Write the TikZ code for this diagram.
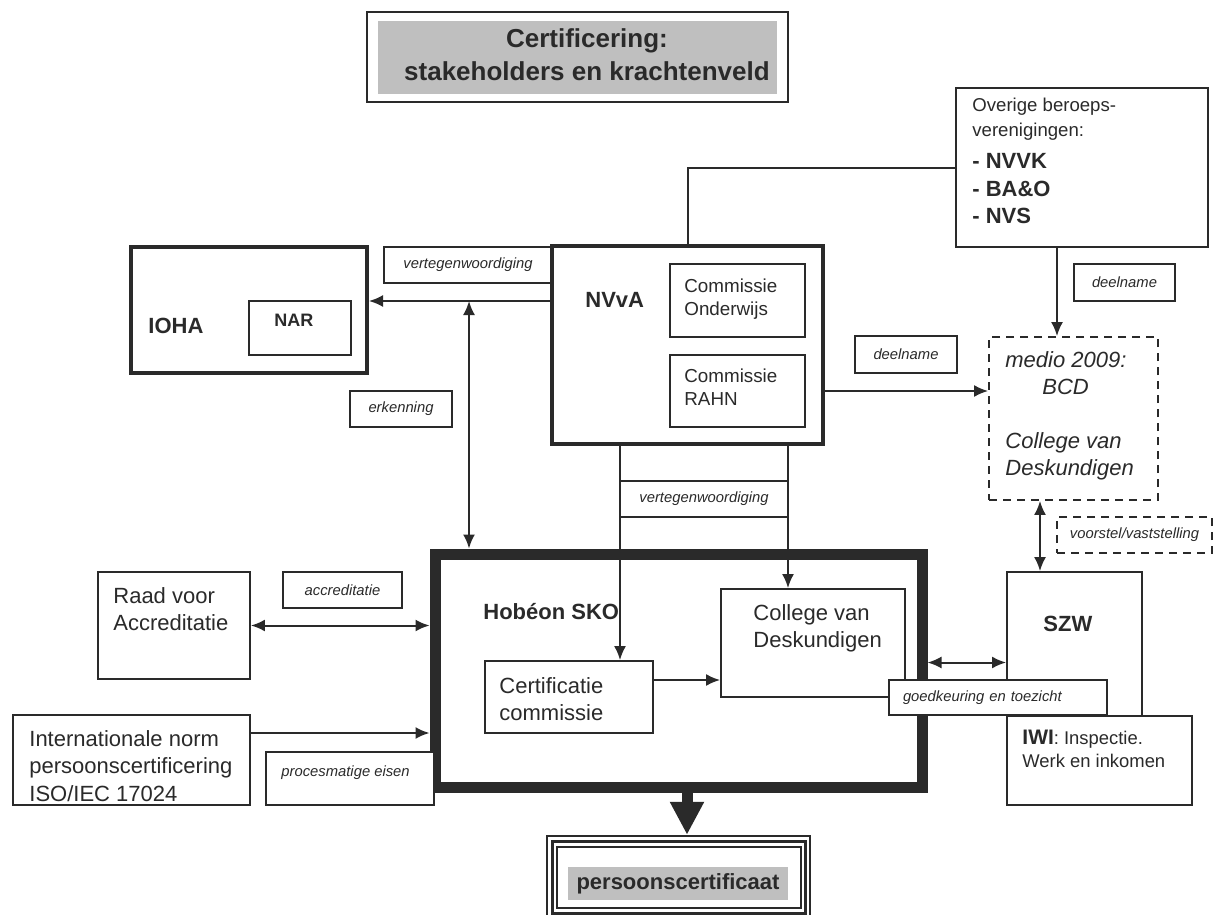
\documentclass[tikz,border=0pt]{standalone}
\usepackage{fontspec}
\setmainfont{Liberation Sans}
\usetikzlibrary{arrows.meta}
\definecolor{ink}{HTML}{2A2A2A}
\definecolor{shade}{HTML}{BFBFBF}

\tikzset{
  box/.style={draw=ink, line width=0.9pt, fill=white, inner sep=0pt},
  heavybox/.style={box, line width=2pt},
  lbl/.style={box, text=ink, font=\fontsize{7.4}{9}\selectfont\itshape, minimum height=18pt},
  txt/.style={inner sep=0pt, anchor=north west, align=left, text=ink, font=\fontsize{11}{13.5}\selectfont},
  btxt/.style={txt, font=\fontsize{11}{13.5}\selectfont\bfseries},
  conn/.style={draw=ink, line width=1pt},
}

\begin{document}
\begin{tikzpicture}[x=0.5pt, y=-0.5pt, >={Latex[length=7pt,width=6pt]}]
\useasboundingbox (0,0) rectangle (1215,915);

% title
\node[box, minimum width=210.5pt, minimum height=45pt] (titleframe) at (577.5,57) {};
\node[fill=shade, inner sep=0pt, minimum width=199.5pt, minimum height=36.5pt] (titlefill) at (577.5,57.5) {};
\node[txt, anchor=north, align=center, font=\fontsize{13}{16.5}\selectfont\bfseries] (title) at (587,28) {Certificering:\\ stakeholders en krachtenveld};

% other associations
\node[box, minimum width=126pt, minimum height=79.5pt] (overige) at (1082,167.5) {};
\node[txt, font=\fontsize{9.3}{12.5}\selectfont] (overigetxt) at (972,98) {Overige beroeps-\\verenigingen:};
\node[btxt, font=\fontsize{11}{13.75}\selectfont\bfseries] (overigelist) at (972,153) {- NVVK\\- BA\&O\\- NVS};

% NVvA
\node[lbl, minimum width=84pt] (vert1) at (468,265) {vertegenwoordiging};
\node[heavybox, minimum width=135.5pt, minimum height=99pt] (nvva) at (687.5,345) {};
\node[btxt] (nvvatxt) at (585,292) {NVvA};
\node[box, minimum width=67.5pt, minimum height=36.5pt] (comond) at (737.5,300.5) {};
\node[txt, font=\fontsize{9.4}{11.5}\selectfont] (comondtxt) at (684,278) {Commissie\\Onderwijs};
\node[box, minimum width=67.5pt, minimum height=36pt] (comrahn) at (737.5,391) {};
\node[txt, font=\fontsize{9.4}{11.5}\selectfont] (comrahntxt) at (684,368) {Commissie\\RAHN};

% IOHA
\node[heavybox, minimum width=118pt, minimum height=63pt] (ioha) at (249,310) {};
\node[btxt] (iohatxt) at (148,318) {IOHA};
\node[box, minimum width=51pt, minimum height=27pt] (nar) at (300,328) {};
\node[btxt, font=\fontsize{9}{11}\selectfont\bfseries] (nartxt) at (274,314) {NAR};

% BCD
\node[box, dash pattern=on 4pt off 3pt, minimum width=84.5pt, minimum height=81.5pt] (medio) at (1073.5,418.5) {};
\node[txt, font=\fontsize{11}{13.5}\selectfont\itshape] (mediotxt) at (1005,351) {medio 2009:\\\hspace*{18.5pt}BCD\\[13.5pt]College van\\Deskundigen};

% SZW
\node[box, minimum width=67.5pt, minimum height=72pt] (szw) at (1074.5,644) {};
\node[btxt] (szwtxt) at (1043,616) {SZW};
\node[box, minimum width=92.5pt, minimum height=44.5pt] (iwi) at (1099.5,760.5) {};
\node[txt, font=\fontsize{9.2}{11.5}\selectfont] (iwitxt) at (1022,730) {{\fontsize{10.5}{11.5}\selectfont\bfseries IWI}: Inspectie.\\Werk en inkomen};

% Hobeon
\node[box, line width=5.5pt, minimum width=243.5pt, minimum height=116.5pt] (hobeon) at (678.5,670.5) {};
\node[btxt] (hobeontxt) at (483,603) {Hobéon SKO};
\node[box, minimum width=84pt, minimum height=36pt] (cert) at (569,697) {};
\node[txt] (certtxt) at (499,677) {Certificatie\\commissie};
\node[box, minimum width=92pt, minimum height=54pt] (college) at (813,643) {};
\node[txt] (collegetxt) at (753,604) {College van\\Deskundigen};

% left side
\node[box, minimum width=76pt, minimum height=53.5pt] (raad) at (174,625.5) {};
\node[txt] (raadtxt) at (113,587) {Raad voor\\Accreditatie};
\node[box, minimum width=118.5pt, minimum height=45pt] (intl) at (131.5,760) {};
\node[txt, font=\fontsize{11}{13.75}\selectfont] (intltxt) at (29,730) {Internationale norm\\persoonscertificering\\ISO/IEC 17024};

% certificate
\node[box, minimum width=131.65pt, minimum height=41.15pt] (pcert) at (678.35,876.85) {};
\node[box, line width=1.5pt, minimum width=126.5pt, minimum height=35.75pt] (pcertmid) at (678.5,877.25) {};
\node[box, minimum width=122pt, minimum height=30.5pt] (pcertin) at (678.7,877.5) {};
\node[fill=shade, inner sep=0pt, minimum width=110pt, minimum height=16.5pt, text=ink, font=\fontsize{11}{13}\selectfont\bfseries] (pcerttxt) at (678,883.5) {persoonscertificaat};

% labels
\node[lbl, minimum width=51pt] (erkenning) at (401,409) {erkenning};
\node[lbl, minimum width=50.5pt, minimum height=18.5pt] (deeltop) at (1124.5,282.5) {deelname};
\node[lbl, minimum width=51pt, minimum height=18.5pt] (deelmid) at (906,354.5) {deelname};
\node[lbl, minimum width=84pt] (vert2) at (704,499) {vertegenwoordiging};
\node[lbl, dash pattern=on 4pt off 3pt, minimum width=77.5pt] (voorstel) at (1134.5,535) {voorstel/vaststelling};
\node[lbl, minimum width=59.5pt] (accr) at (342.5,590) {accreditatie};

% connectors
\coordinate (split) at (469,301);
\draw[conn, ->] (nvva.west |- split) -- (ioha.east |- split);
\draw[conn, <->] (split) -- (split |- hobeon.north);
\draw[conn] (overige.west) -| (nvva.north);
\draw[conn, ->] ([xshift=-12.5pt]overige.south) -- ([xshift=-12.5pt]overige.south |- medio.north);
\draw[conn, ->] ([yshift=-23pt]nvva.east) -- ([yshift=-23pt]nvva.east -| medio.west);
\draw[conn, ->] ([xshift=-33.75pt]nvva.south) -- ([xshift=-33.75pt]nvva.south |- cert.north);
\draw[conn, ->] ([xshift=50.25pt]nvva.south) -- ([xshift=50.25pt]nvva.south |- college.north);
\draw[conn, ->] ([yshift=8.5pt]cert.east) -- ([yshift=8.5pt]cert.east -| college.west);
\draw[conn, <->] (raad.east) -- (raad.east -| hobeon.west);
\draw[conn, ->] ([yshift=13.5pt]intl.east) -- ([yshift=13.5pt]intl.east -| hobeon.west);
\draw[conn, <->] ([xshift=-16.75pt]medio.south) -- ([xshift=-16.75pt]medio.south |- szw.north);
\draw[conn, <->] ([yshift=4pt]hobeon.east) -- ([yshift=4pt]hobeon.east -| szw.west);
\draw[draw=ink, line width=5.5pt, -{Triangle[length=16.5pt,width=16pt]}] ([xshift=4.25pt]hobeon.south) -- ([xshift=4.25pt]hobeon.south |- pcert.north);

% labels on top
\node[lbl, minimum width=84pt, minimum height=26.5pt] (procbox) at (350,778.5) {};
\node[txt, font=\fontsize{7.4}{9}\selectfont\itshape] (proctxt) at (281,765) {procesmatige eisen};
\node[lbl, minimum height=17.5pt, text width=95pt, align=left, inner xsep=7pt] (goedk) at (998,697.5) {goedkeuring en toezicht};
\end{tikzpicture}
\end{document}
